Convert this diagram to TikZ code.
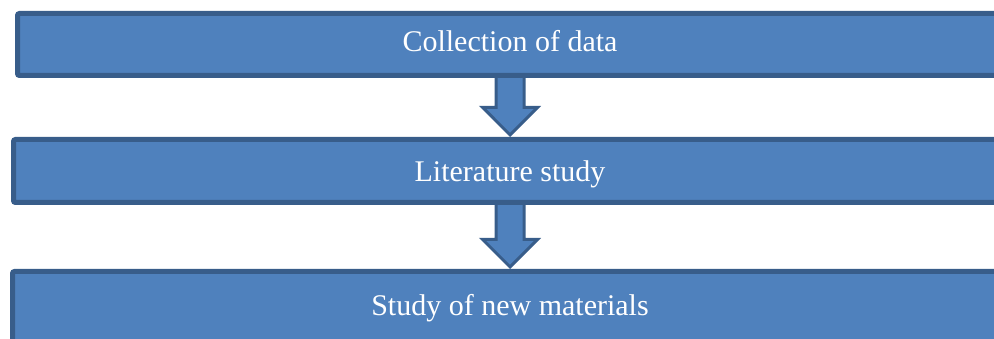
\documentclass[tikz,border=0pt]{standalone}
\usepackage{fontspec}
\setmainfont{Liberation Serif}
\usetikzlibrary{shapes.arrows,backgrounds}

\definecolor{boxfill}{RGB}{79,129,189}
\definecolor{boxline}{RGB}{56,93,138}

\begin{document}
\begin{tikzpicture}
  [x=1pt,y=-1pt,
   stage/.style={draw=boxline,fill=boxfill,line width=5pt,rounded corners=2pt,
     minimum width=1020pt,inner sep=0pt},
   caption/.style={text=white,font=\fontsize{30}{36}\selectfont,anchor=base},
   blockarrow/.style={single arrow,draw=boxline,fill=boxfill,line width=3pt,
     shape border rotate=270,single arrow head extend=13.5pt,
     inner sep=12.5pt,minimum height=#1,anchor=tip}]
  % page size; the boxes run off its right edge
  \useasboundingbox (0,0) rectangle (994,339);
  \node[stage,minimum height=62pt] (data) at (527.5,44.5) {};
  \node[stage,minimum height=63pt] (lit) at (523.5,171) {};
  \node[stage,minimum height=74pt] (mat) at (522.5,308.5) {};
  \node[caption] (datatext) at (510,52) {Collection of data};
  \node[caption] (littext) at (510,182) {Literature study};
  \node[caption] (mattext) at (510,316) {Study of new materials};
  % block arrows sit behind the boxes
  \begin{scope}[on background layer]
    \node[blockarrow=61pt] (a1) at (lit.north -| datatext.south) {};
    \node[blockarrow=66pt] (a2) at (mat.north -| littext.south) {};
  \end{scope}
\end{tikzpicture}
\end{document}
